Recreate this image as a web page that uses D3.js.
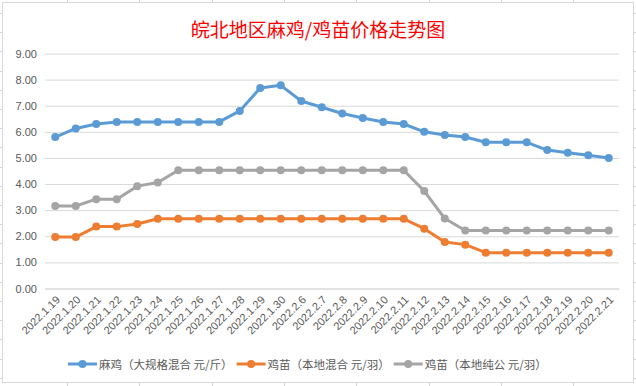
<!DOCTYPE html>
<html>
<head>
<meta charset="utf-8">
<script src="https://cdn.jsdelivr.net/npm/d3@7"></script>
<style>
  html, body { margin: 0; padding: 0; background: #fff; }
  svg { display: block; }
</style>
</head>
<body>
<svg id="chart" width="636" height="386"></svg>
<script>
const dates = [
  '2022.1.19', '2022.1.20', '2022.1.21', '2022.1.22', '2022.1.23', '2022.1.24',
  '2022.1.25', '2022.1.26', '2022.1.27', '2022.1.28', '2022.1.29', '2022.1.30',
  '2022.2.6', '2022.2.7', '2022.2.8', '2022.2.9', '2022.2.10', '2022.2.11',
  '2022.2.12', '2022.2.13', '2022.2.14', '2022.2.15', '2022.2.16', '2022.2.17',
  '2022.2.18', '2022.2.19', '2022.2.20', '2022.2.21'
];

// 麻鸡（大规格混合 元/斤）
const majiPrice = [
  5.8, 6.13, 6.3, 6.38, 6.38, 6.38, 6.38, 6.38, 6.38, 6.8, 7.68, 7.78,
  7.18, 6.94, 6.7, 6.53, 6.38, 6.3, 6.0, 5.88, 5.8, 5.6, 5.6, 5.6,
  5.3, 5.2, 5.1, 5.0
];
// 鸡苗（本地混合 元/羽）
const chickMixed = [
  1.97, 1.97, 2.37, 2.37, 2.47, 2.67, 2.67, 2.67, 2.67, 2.67, 2.67, 2.67,
  2.67, 2.67, 2.67, 2.67, 2.67, 2.67, 2.29, 1.78, 1.68, 1.37, 1.37, 1.37,
  1.37, 1.37, 1.37, 1.37
];
// 鸡苗（本地纯公 元/羽）
const chickMale = [
  3.16, 3.16, 3.42, 3.42, 3.92, 4.06, 4.53, 4.53, 4.53, 4.53, 4.53, 4.53,
  4.53, 4.53, 4.53, 4.53, 4.53, 4.53, 3.73, 2.68, 2.22, 2.22, 2.22, 2.22,
  2.22, 2.22, 2.22, 2.22
];

const seriesNames = ['麻鸡（大规格混合 元/斤）', '鸡苗（本地混合 元/羽）', '鸡苗（本地纯公 元/羽）'];
const seriesColors = ['#5b9bd5', '#ed7d31', '#a5a5a5'];
const yTicks = [0, 1, 2, 3, 4, 5, 6, 7, 8, 9];
const title = '皖北地区麻鸡/鸡苗价格走势图';

const series = [majiPrice, chickMixed, chickMale].map((values, i) => ({
  name: seriesNames[i],
  color: seriesColors[i],
  values: values
}));

const svg = d3.select('#chart');
const W = 636, H = 386;
const numFont = '"Liberation Sans", Arial, sans-serif';
const cjkFont = '"Noto Sans CJK SC", sans-serif';

// spreadsheet grid peeking around the chart object
const sheet = svg.append('g').attr('stroke', '#d3d3dc').attr('stroke-width', 1);
d3.range(67, W, 72.3).forEach(x => {
  const xx = Math.round(x) + 0.5;
  sheet.append('line').attr('x1', xx).attr('x2', xx).attr('y1', 0).attr('y2', 2);
  sheet.append('line').attr('x1', xx).attr('x2', xx).attr('y1', 383).attr('y2', H);
});
d3.range(13, H, 19.2).forEach(y => {
  const yy = Math.round(y) + 0.5;
  sheet.append('line').attr('x1', 0).attr('x2', 2).attr('y1', yy).attr('y2', yy);
  sheet.append('line').attr('x1', 634).attr('x2', W).attr('y1', yy).attr('y2', yy);
});

// chart frame
svg.append('rect')
  .attr('x', 2.5).attr('y', 2.5)
  .attr('width', 631).attr('height', 380)
  .attr('fill', '#fff')
  .attr('stroke', '#d9d9d9');

// title
svg.append('text')
  .attr('x', 318).attr('y', 28)
  .attr('text-anchor', 'middle')
  .attr('dominant-baseline', 'central')
  .attr('fill', '#ff0000')
  .style('font-family', cjkFont)
  .style('font-size', '19px')
  .text(title);

const x = d3.scalePoint().domain(dates).range([45, 619]).padding(0.5);
const y = d3.scaleLinear().domain([0, 9]).range([288.5, 53.5]);

// y axis with gridlines
const yAxis = svg.append('g')
  .attr('transform', 'translate(45,0)')
  .call(d3.axisLeft(y).tickValues(yTicks).tickSize(-574).tickPadding(8).tickFormat(d3.format('.2f')));
yAxis.select('.domain').remove();
yAxis.selectAll('.tick line').attr('stroke', '#d9d9d9');
yAxis.selectAll('.tick text')
  .attr('fill', '#595959')
  .style('font-family', numFont)
  .style('font-size', '11px');

// x axis labels, rotated
const xAxis = svg.append('g')
  .attr('transform', 'translate(0,288.5)')
  .call(d3.axisBottom(x).tickSize(0).tickPadding(0));
xAxis.select('.domain').attr('stroke', '#d9d9d9');
xAxis.selectAll('.tick text')
  .attr('fill', '#595959')
  .attr('text-anchor', 'end')
  .attr('dy', 0)
  .attr('transform', 'translate(5,12) rotate(-45)')
  .style('font-family', numFont)
  .style('font-size', '11px');

// lines and markers
const line = d3.line()
  .x((d, i) => x(dates[i]))
  .y(d => y(d));

series.forEach(s => {
  const g = svg.append('g');
  g.append('path')
    .datum(s.values)
    .attr('fill', 'none')
    .attr('stroke', s.color)
    .attr('stroke-width', 3)
    .attr('stroke-linejoin', 'round')
    .attr('d', line);
  g.selectAll('circle')
    .data(s.values)
    .join('circle')
    .attr('cx', (d, i) => x(dates[i]))
    .attr('cy', d => y(d))
    .attr('r', 4)
    .attr('fill', s.color);
});

// legend
const legend = svg.append('g').attr('transform', 'translate(68,364)');
let lx = 0;
series.forEach(s => {
  const item = legend.append('g').attr('transform', `translate(${lx},0)`);
  item.append('line')
    .attr('x1', 0).attr('x2', 29).attr('y1', 0).attr('y2', 0)
    .attr('stroke', s.color).attr('stroke-width', 3);
  item.append('circle').attr('cx', 14.5).attr('cy', 0).attr('r', 4).attr('fill', s.color);
  const t = item.append('text')
    .attr('x', 31).attr('y', 0)
    .attr('dominant-baseline', 'central')
    .attr('fill', '#595959')
    .style('font-family', cjkFont)
    .style('font-size', '11.5px')
    .text(s.name);
  lx += 31 + t.node().getComputedTextLength() + 4;
});
</script>
</body>
</html>
